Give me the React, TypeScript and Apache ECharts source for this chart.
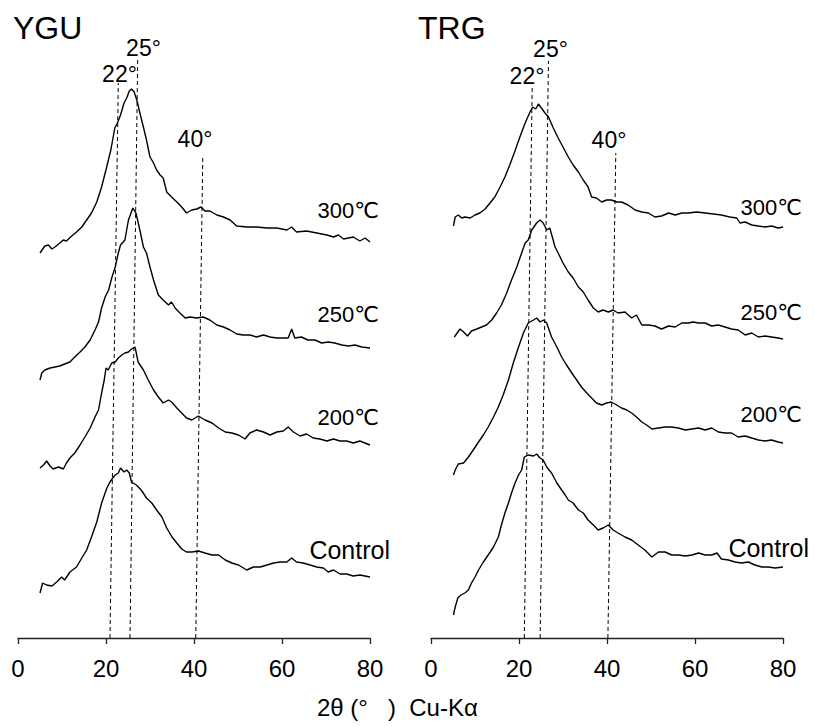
import React, { useEffect, useRef } from "react";
import * as echarts from "echarts";

// ---- data (2θ in degrees, intensity in arbitrary stacked units) ----
const PANEL_TITLES = ["YGU", "TRG"];
const SAMPLE_LABELS = ["300℃", "250℃", "200℃", "Control"];
const PEAK_LABELS = ["22°", "25°", "40°"];
const X_MIN = 0;
const X_MAX = 80;
const X_STEP = 20;
const AXIS_TITLE = "2θ (°   )  Cu-Kα";

const YGU_300: [number, number][] = [
  [5, 385], [6.1, 392], [6.9, 393], [7.7, 389], [8.4, 391], [9.5, 395], [10.3, 398], [11, 397],
  [12.2, 402], [13.3, 406], [14.5, 411], [15.6, 418], [16.7, 425], [17.9, 436], [19, 451],
  [20.1, 470], [21.1, 488], [22, 510], [22.6, 515], [23.3, 523], [24.1, 535], [24.7, 540],
  [25.3, 547], [25.8, 549], [26.4, 546], [27, 538], [27.7, 525], [28.5, 511], [29.2, 498],
  [30, 481], [30.8, 475], [31.5, 468], [32.3, 463], [33, 460], [33.8, 446], [34.9, 441],
  [36.1, 436], [37.2, 431], [38.3, 425], [39.5, 428], [40.6, 429], [41.6, 431], [42.5, 427],
  [43.6, 427], [45.2, 423], [46.7, 421], [48.2, 418], [49.7, 412], [52, 411], [54.2, 411],
  [56.6, 410], [58.8, 410], [61.1, 408], [62.2, 411], [63.3, 406], [65.6, 407], [67.9, 405],
  [70.2, 403], [71.7, 401], [72.8, 403], [74, 399], [76.2, 401], [77.7, 397], [78.9, 400],
  [80, 396],
];
const YGU_250: [number, number][] = [
  [5, 258], [5.4, 265], [6.1, 268], [7.3, 270], [8.4, 271], [9.5, 272], [10.6, 274], [11.8, 276],
  [12.9, 281], [14.1, 286], [15.2, 291], [16.4, 298], [17.5, 308], [18.3, 316], [19, 330],
  [19.8, 341], [20.6, 348], [21.3, 360], [22.1, 371], [22.8, 385], [23.3, 393], [24.3, 398],
  [25.1, 418], [26.1, 430], [26.8, 425], [27.7, 408], [28.5, 391], [29.2, 385], [30, 371],
  [30.8, 358], [31.9, 343], [33, 338], [34.2, 333], [34.9, 336], [35.7, 330], [36.8, 325],
  [38, 320], [39.1, 321], [40.6, 320], [42.1, 321], [43.6, 318], [45.2, 313], [46.7, 311],
  [48.2, 308], [49.7, 304], [51.2, 303], [52.7, 303], [54.2, 301], [55.8, 303], [57.3, 301],
  [58.8, 300], [60.3, 300], [61.4, 300], [62.2, 309], [62.9, 300], [64.4, 301], [65.9, 298],
  [67.5, 298], [69, 295], [70.5, 296], [72, 295], [73.6, 293], [75.1, 292], [76.6, 293],
  [78.1, 291], [80, 290],
];
const YGU_200: [number, number][] = [
  [5, 170], [5.8, 173], [6.5, 177], [7.3, 172], [8, 169], [9.2, 171], [10.3, 169], [11, 175],
  [11.8, 180], [12.9, 185], [14.1, 193], [15.2, 201], [16.4, 210], [17.5, 221], [18.3, 228],
  [19, 245], [19.6, 258], [20, 270], [20.5, 268], [21.3, 275], [22.1, 276], [22.8, 280],
  [23.6, 283], [24.3, 285], [25.1, 286], [25.8, 289], [26.6, 291], [27.3, 276], [28.5, 268],
  [29.6, 258], [30.8, 248], [31.9, 241], [33, 235], [34.2, 238], [34.9, 236], [36.1, 230],
  [37.2, 225], [38.3, 220], [39.5, 218], [41, 222], [42.5, 218], [44.1, 215], [45.6, 210],
  [47.1, 206], [48.6, 205], [50.1, 203], [51.6, 199], [52.7, 205], [54.2, 208], [55.8, 206],
  [57.3, 203], [58.8, 206], [60.3, 207], [61.4, 211], [62.6, 206], [64.1, 202], [65.6, 204],
  [67.1, 200], [68.6, 199], [70.2, 197], [71.7, 199], [73.2, 197], [74.7, 197], [76.2, 195],
  [77.7, 197], [80, 193],
];
const YGU_CONTROL: [number, number][] = [
  [5, 45], [5.6, 55], [6.5, 53], [7.7, 52], [8.8, 56], [9.9, 61], [10.6, 58], [11.8, 66],
  [13.3, 71], [14.5, 80], [15.6, 88], [16.7, 101], [17.9, 116], [19, 135], [20.2, 150],
  [20.9, 156], [21.7, 161], [22.1, 163], [22.8, 165], [23.3, 170], [24.1, 166], [24.7, 168],
  [25.3, 165], [25.8, 156], [26.9, 153], [28, 148], [29.2, 140], [30.4, 135], [31.5, 128],
  [32.7, 121], [33.8, 110], [35, 101], [36.1, 95], [37.2, 89], [38.3, 86], [39.5, 86],
  [41, 87], [42.5, 85], [44.1, 83], [45.6, 83], [47.1, 78], [48.6, 75], [50.1, 73], [52, 68],
  [53.5, 71], [55, 71], [56.6, 73], [58.1, 75], [59.6, 76], [61.1, 76], [62.2, 80], [63.3, 76],
  [64.8, 75], [66.4, 73], [67.9, 71], [69.4, 70], [70.5, 66], [71.7, 68], [73.2, 64],
  [74.7, 64], [76.2, 62], [77.7, 63], [80, 61],
];

const TRG_300: [number, number][] = [
  [5.1, 412], [5.5, 421], [6.2, 423], [7, 420], [7.7, 421], [8.9, 420], [10, 423], [11.1, 425],
  [12.3, 429], [13.4, 435], [14.5, 441], [15.7, 451], [16.8, 461], [17.9, 473], [19, 486],
  [20.2, 501], [21.4, 515], [22.5, 526], [23.1, 531], [23.8, 529], [24.4, 534], [25.1, 530],
  [25.9, 525], [26.7, 521], [27.8, 510], [28.9, 500], [30, 491], [31.2, 481], [32.3, 473],
  [33.5, 466], [34.6, 458], [35.7, 451], [36.5, 441], [37.6, 440], [38.8, 436], [39.9, 438],
  [41, 438], [42.2, 436], [43.3, 436], [44.8, 433], [46.4, 428], [47.9, 426], [49.4, 425],
  [50.9, 421], [52.4, 422], [54, 425], [55.5, 423], [57, 425], [58.5, 425], [60.4, 426],
  [62.3, 425], [64.2, 424], [66, 423], [67.9, 421], [69.5, 420], [70.2, 415], [71.4, 416],
  [72.9, 413], [74.4, 412], [75.9, 411], [77.4, 412], [78.9, 410], [80, 411],
];
const TRG_250: [number, number][] = [
  [5.3, 301], [6.1, 306], [6.6, 309], [7.4, 306], [8.3, 302], [9.2, 307], [10.4, 309],
  [11.5, 311], [12.6, 313], [13.8, 318], [14.9, 325], [16, 333], [17.2, 345], [18.3, 358],
  [19.5, 371], [20.6, 385], [21.4, 395], [22.1, 398], [22.9, 408], [24, 415], [24.8, 418],
  [25.5, 415], [26.3, 408], [27, 410], [28.2, 391], [28.9, 385], [30, 375], [31.2, 366],
  [32.3, 360], [33.5, 351], [34.6, 346], [35.7, 338], [36.9, 330], [38, 326], [39.1, 328],
  [40.3, 326], [41.4, 328], [42.5, 325], [44.1, 326], [45.6, 320], [46.7, 323], [47.9, 313],
  [49.4, 313], [50.9, 312], [52.4, 309], [54, 312], [55.5, 311], [57, 315], [58.5, 315],
  [59.6, 316], [60.8, 315], [62.3, 315], [63.8, 312], [65.3, 313], [66.8, 311], [68.3, 309],
  [69.8, 308], [71.4, 303], [72.9, 305], [74.4, 301], [75.9, 302], [77.4, 301], [78.9, 300],
  [80, 299],
];
const TRG_200: [number, number][] = [
  [5.1, 163], [5.5, 168], [6.2, 174], [7.4, 175], [8.5, 181], [9.6, 188], [10.8, 196],
  [11.9, 203], [13, 211], [14.2, 221], [15.3, 231], [16.4, 243], [17.6, 258], [18.7, 275],
  [19.9, 291], [21, 305], [22.1, 315], [23.3, 318], [24, 320], [24.8, 316], [25.5, 318],
  [26.3, 315], [27.4, 301], [28.6, 291], [29.7, 281], [30.8, 273], [32, 265], [33.1, 258],
  [34.2, 251], [35.4, 245], [36.5, 240], [37.6, 235], [38.8, 233], [39.9, 235], [41, 236],
  [42.2, 233], [43.3, 230], [44.5, 228], [45.6, 225], [46.7, 221], [47.9, 216], [49, 213],
  [50.2, 209], [51.7, 210], [53.2, 211], [54.7, 211], [56.2, 210], [57.8, 208], [59.3, 209],
  [60.8, 210], [62.3, 208], [63.8, 210], [65.3, 206], [66.8, 205], [68.3, 205], [69.8, 201],
  [71.4, 202], [72.9, 200], [74.4, 198], [75.9, 197], [77.4, 198], [78.9, 196], [80, 195],
];
const TRG_CONTROL: [number, number][] = [
  [5.1, 23], [5.5, 31], [6.1, 40], [6.8, 43], [7.7, 45], [8.5, 48], [9.2, 55], [10, 61],
  [10.8, 68], [11.9, 76], [13, 83], [14.2, 91], [15.3, 101], [16, 113], [16.8, 125],
  [17.6, 135], [18.3, 145], [19.1, 155], [19.9, 163], [20.6, 168], [21.2, 181], [22.1, 183],
  [23.3, 182], [24, 184], [24.8, 180], [25.5, 178], [26.3, 171], [27.4, 165], [28.6, 155],
  [29.7, 148], [30.5, 143], [31.2, 138], [32.3, 135], [33.5, 128], [34.6, 125], [35.7, 118],
  [36.9, 113], [38, 108], [39.1, 110], [40.3, 113], [41.4, 108], [42.5, 105], [44.1, 101],
  [45.6, 98], [47.1, 93], [48.6, 88], [50.2, 81], [51.7, 86], [53.2, 86], [54.7, 83],
  [56.2, 83], [57.8, 82], [59.3, 83], [60.8, 85], [62.3, 83], [63.8, 83], [65, 85], [66, 79],
  [67.6, 78], [69.1, 76], [70.6, 75], [72.1, 76], [73.6, 73], [75.2, 71], [76.7, 71],
  [78.2, 70], [80, 71],
];

// reference (dashed) lines: [bottom point, top point]
const YGU_PEAK_LINES: [number, number][][] = [
  [[20.9, 0], [22.8, 555]],
  [[25.45, 0], [27.2, 578]],
  [[40.4, 0], [42.0, 483]],
];
const TRG_PEAK_LINES: [number, number][][] = [
  [[21.2, 0], [23.0, 552]],
  [[24.8, 0], [26.7, 577]],
  [[40.2, 0], [42.0, 485]],
];

const PANEL_CURVES = [
  [YGU_300, YGU_250, YGU_200, YGU_CONTROL],
  [TRG_300, TRG_250, TRG_200, TRG_CONTROL],
];
const PANEL_PEAK_LINES = [YGU_PEAK_LINES, TRG_PEAK_LINES];

// ---- layout (styling only) ----
const FONT = "'Liberation Sans', Arial, 'DejaVu Sans', sans-serif";
const GRID_LEFTS = [18, 431];
const GRID_WIDTH = 352;
const GRID_TOP = 38;
const GRID_HEIGHT = 600;
const TITLE_POS = [[13, 28], [418, 28]];
const SAMPLE_LABEL_POS = [
  [[379, 210], [379, 314], [379, 417], [390, 550]],
  [[802, 207], [802, 312], [802, 414], [809, 548]],
];
const PEAK_LABEL_POS = [
  [[119.5, 74], [143.5, 47.5], [195, 139]],
  [[527, 76], [550.5, 49], [609, 140]],
];

export default function App() {
  const ref = useRef<HTMLDivElement>(null);

  useEffect(() => {
    document.body.style.margin = "0";
    if (!ref.current) return;
    const chart = echarts.init(ref.current, undefined, { renderer: "svg" });

    const grids = GRID_LEFTS.map((left) => ({
      left,
      top: GRID_TOP,
      width: GRID_WIDTH,
      height: GRID_HEIGHT,
    }));

    const xAxes = GRID_LEFTS.map((_, i) => ({
      type: "value",
      gridIndex: i,
      min: X_MIN,
      max: X_MAX,
      interval: X_STEP,
      axisLine: { show: true, onZero: false, lineStyle: { color: "#222", width: 1.3 } },
      axisTick: { show: true, length: 6, inside: false, lineStyle: { color: "#222", width: 1.3 } },
      axisLabel: { color: "#000", fontSize: 24, fontFamily: FONT, margin: 18 },
      splitLine: { show: false },
    }));

    const yAxes = GRID_LEFTS.map((_, i) => ({
      type: "value",
      gridIndex: i,
      min: 0,
      max: GRID_HEIGHT,
      show: false,
      splitLine: { show: false },
    }));

    const series: any[] = [];
    PANEL_CURVES.forEach((curves, p) => {
      curves.forEach((data, k) => {
        series.push({
          name: `${PANEL_TITLES[p]} ${SAMPLE_LABELS[k]}`,
          type: "line",
          xAxisIndex: p,
          yAxisIndex: p,
          data,
          showSymbol: false,
          symbol: "none",
          lineStyle: { color: "#000", width: 1.4 },
          z: 3,
        });
      });
      PANEL_PEAK_LINES[p].forEach((data, k) => {
        series.push({
          name: `${PANEL_TITLES[p]} ${PEAK_LABELS[k]}`,
          type: "line",
          xAxisIndex: p,
          yAxisIndex: p,
          data,
          showSymbol: false,
          symbol: "none",
          lineStyle: { color: "#000", width: 1, type: [4, 3] },
          z: 2,
        });
      });
    });

    const graphic: any[] = [];
    PANEL_TITLES.forEach((t, p) => {
      graphic.push({
        type: "text",
        x: TITLE_POS[p][0],
        y: TITLE_POS[p][1],
        style: { text: t, fontSize: 32, fontFamily: FONT, fill: "#000", textAlign: "left", textVerticalAlign: "middle" },
      });
      SAMPLE_LABELS.forEach((s, k) => {
        graphic.push({
          type: "text",
          x: SAMPLE_LABEL_POS[p][k][0],
          y: SAMPLE_LABEL_POS[p][k][1],
          style: {
            text: s,
            fontSize: k === 3 ? 25 : 22,
            fontFamily: FONT,
            fill: "#000",
            textAlign: "right",
            textVerticalAlign: "middle",
          },
        });
      });
      PEAK_LABELS.forEach((s, k) => {
        graphic.push({
          type: "text",
          x: PEAK_LABEL_POS[p][k][0],
          y: PEAK_LABEL_POS[p][k][1],
          style: { text: s, fontSize: 23, fontFamily: FONT, fill: "#000", textAlign: "center", textVerticalAlign: "middle" },
        });
      });
    });
    graphic.push({
      type: "text",
      x: 317,
      y: 707,
      style: { text: AXIS_TITLE, fontSize: 24, fontFamily: FONT, fill: "#000", textAlign: "left", textVerticalAlign: "middle" },
    });

    chart.setOption({
      animation: false,
      backgroundColor: "#fff",
      grid: grids,
      xAxis: xAxes,
      yAxis: yAxes,
      series,
      graphic,
    });

    return () => chart.dispose();
  }, []);

  return <div ref={ref} style={{ width: 815, height: 727 }} />;
}
